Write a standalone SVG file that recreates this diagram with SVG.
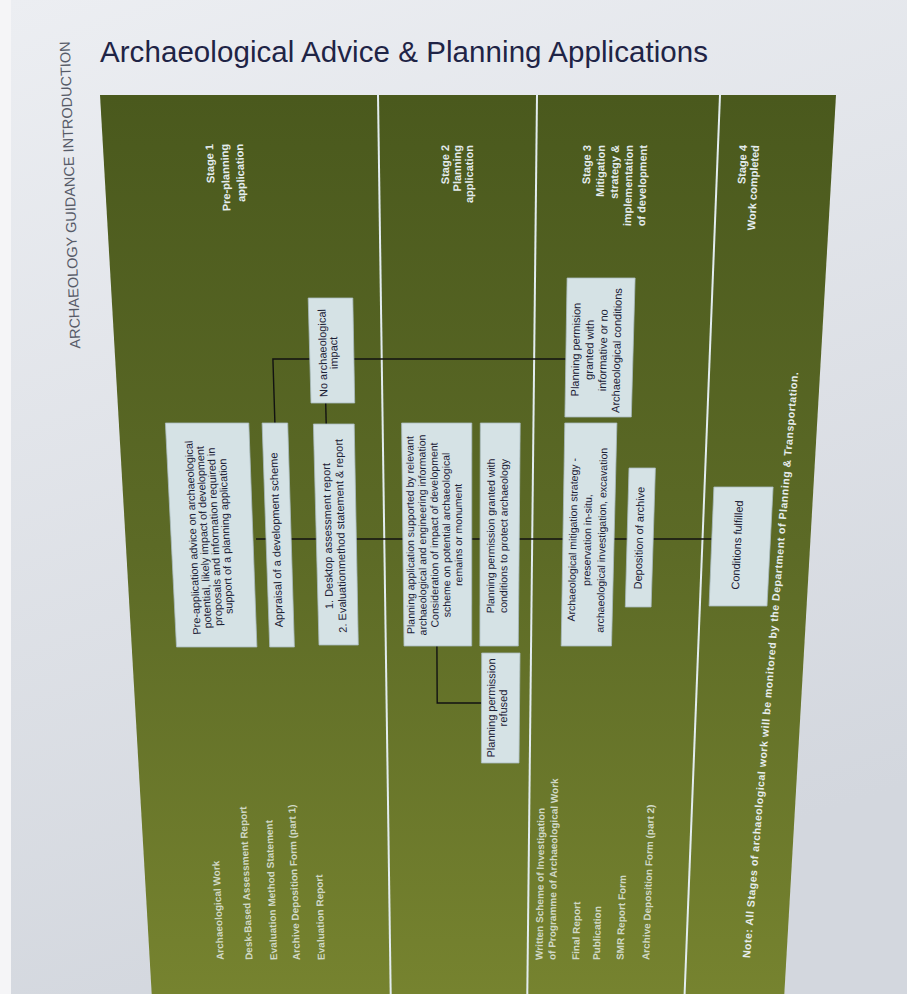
<svg xmlns="http://www.w3.org/2000/svg" width="907" height="994" viewBox="0 0 907 994">
<defs>
<linearGradient id="pg" x1="0" y1="0" x2="0.3" y2="1">
<stop offset="0" stop-color="#eceef2"/>
<stop offset="1" stop-color="#d3d7de"/>
</linearGradient>
<linearGradient id="gr" x1="0" y1="0" x2="0" y2="1">
<stop offset="0" stop-color="#4a591d"/>
<stop offset="0.5" stop-color="#5c6a26"/>
<stop offset="1" stop-color="#76832f"/>
</linearGradient>
<style>
.box{fill:#d5e2e5;stroke:#a9bbc0;stroke-width:0.8}
.bt{font-family:"Liberation Sans",Arial,sans-serif;font-size:11px;fill:#1b2035;text-anchor:middle;dominant-baseline:central}
.stg{font-family:"Liberation Sans",Arial,sans-serif;font-size:11px;font-weight:bold;fill:#e4ecee;text-anchor:end;dominant-baseline:central}
.lst{font-family:"Liberation Sans",Arial,sans-serif;font-size:10px;font-weight:bold;fill:#d0d8c6;text-anchor:start;dominant-baseline:central}
.conn{stroke:#121212;stroke-width:1.4;fill:none}
.dv{stroke:#e2ecf0;stroke-width:2}
</style>
</defs>
<rect x="0" y="0" width="907" height="994" fill="url(#pg)"/>
<rect x="0" y="0" width="11" height="994" fill="#f5f5f7"/>
<polygon points="100,95 836,95 784.3,994 151.7,994" fill="url(#gr)"/>
<g id="dividers">
<line class="dv" x1="378" y1="95" x2="390.7" y2="994"/>
<line class="dv" x1="537" y1="95" x2="527.3" y2="994"/>
<line class="dv" x1="720" y1="95" x2="684.6" y2="994"/>
</g>
<text x="100" y="62" font-family="Liberation Sans, Arial, sans-serif" font-size="29.5" fill="#1f2446" textLength="608">Archaeological Advice &amp; Planning Applications</text>
<text transform="translate(70,195) rotate(-92)" x="0" y="0" font-family="Liberation Sans, Arial, sans-serif" font-size="14.5" fill="#575b68" text-anchor="middle" dominant-baseline="central">ARCHAEOLOGY GUIDANCE INTRODUCTION</text>
<g id="stage-labels">
<text class="stg" transform="translate(209,144) rotate(-92.2)">Stage 1</text>
<text class="stg" transform="translate(224,144) rotate(-92.2)">Pre-planning</text>
<text class="stg" transform="translate(239,144) rotate(-92.2)">application</text>
<text class="stg" transform="translate(445,145) rotate(-90.1)">Stage 2</text>
<text class="stg" transform="translate(457,145) rotate(-90.1)">Planning</text>
<text class="stg" transform="translate(469,145) rotate(-90.1)">application</text>
<text class="stg" transform="translate(587,145) rotate(-88.6)">Stage 3</text>
<text class="stg" transform="translate(601,145) rotate(-88.6)">Mitigation</text>
<text class="stg" transform="translate(615,145) rotate(-88.6)">strategy &amp;</text>
<text class="stg" transform="translate(629,145) rotate(-88.6)">implementation</text>
<text class="stg" transform="translate(643,145) rotate(-88.6)">of development</text>
<text class="stg" transform="translate(743,145) rotate(-87.4)">Stage 4</text>
<text class="stg" transform="translate(755,145) rotate(-87.4)">Work completed</text>
</g>
<g id="documents-stage1">
<text class="lst" transform="translate(220.3,960) rotate(-92.57)">Archaeological Work</text>
<text class="lst" transform="translate(249,960) rotate(-92.27)">Desk-Based Assessment Report</text>
<text class="lst" transform="translate(273.8,960) rotate(-92.01)">Evaluation Method Statement</text>
<text class="lst" transform="translate(296.5,960) rotate(-91.78)">Archive Deposition Form (part 1)</text>
<text class="lst" transform="translate(321.3,960) rotate(-91.52)">Evaluation Report</text>
</g>
<g id="documents-stage3">
<text class="lst" transform="translate(539.1,960) rotate(-89.26)">Written Scheme of Investigation</text>
<text class="lst" transform="translate(551.9,960) rotate(-89.13)">of Programme of Archaeological Work</text>
<text class="lst" transform="translate(575.7,960) rotate(-88.88)">Final Report</text>
<text class="lst" transform="translate(596.4,960) rotate(-88.67)">Publication</text>
<text class="lst" transform="translate(620.1,960) rotate(-88.42)">SMR Report Form</text>
<text class="lst" transform="translate(645.7,960) rotate(-88.16)">Archive Deposition Form (part 2)</text>
</g>
<text class="lst" transform="translate(746,958) rotate(-85.3)" style="font-size:10.6px;fill:#e6ecec" textLength="588">Note: All Stages of archaeological work will be monitored by the Department of Planning &amp; Transportation.</text>
<g id="connectors">
<line class="conn" x1="256" y1="539" x2="712" y2="539"/>
<polyline class="conn" points="274.9,423 272.9,359 309.8,359"/>
<line class="conn" x1="354" y1="359" x2="565.8" y2="359"/>
<line class="conn" x1="325.7" y1="403" x2="326.2" y2="424"/>
<polyline class="conn" points="436.9,646 437.2,703 481.6,703"/>
</g>
<g id="n-preapp">
<polygon class="box" points="165.4,423 248.8,423 256.9,647 176.5,647"/>
<g transform="translate(209,537) rotate(-92.46)">
<text class="bt" style="font-size:10.8px" y="-16.5">Pre-application advice on archaeological</text>
<text class="bt" style="font-size:10.8px" y="-5.5">potential, likely impact of development</text>
<text class="bt" style="font-size:10.8px" y="5.5">proposals and information required in</text>
<text class="bt" style="font-size:10.8px" y="16.5">support of a planning application</text>
</g>
</g>
<g id="n-appraisal">
<polygon class="box" points="262.1,423 287.7,423 294.4,647 269.7,647"/>
<text class="bt" transform="translate(276,540) rotate(-91.82)">Appraisal of a development scheme</text>
</g>
<g id="n-desktop">
<polygon class="box" points="313.4,424 354.2,424 358.3,645 319,645"/>
<g transform="translate(334,536) rotate(-91.27)">
<text class="bt" y="-6.5">1. Desktop assessment report</text>
<text class="bt" y="6.5">2. Evaluationmethod statement &amp; report</text>
</g>
</g>
<g id="n-noimpact">
<polygon class="box" points="308.2,298 352.8,298 354.7,403 311,403"/>
<g transform="translate(328,353) rotate(-91.27)">
<text class="bt" y="-5.5">No archaeological</text>
<text class="bt" y="5.5">impact</text>
</g>
</g>
<g id="n-informative">
<polygon class="box" points="567.1,278 635.1,278 631.3,417 564.9,417"/>
<g transform="translate(596,350) rotate(-88.77)">
<text class="bt" y="-20.5">Planning permision</text>
<text class="bt" y="-6.8">granted with</text>
<text class="bt" y="6.8">informative or no</text>
<text class="bt" y="20.5">Archaeological conditions</text>
</g>
</g>
<g id="n-application">
<polygon class="box" points="401.6,423 471.8,423 471.7,646 404,646"/>
<g transform="translate(434,535) rotate(-90.3)">
<text class="bt" style="font-size:10.5px" y="-24">Planning application supported by relevant</text>
<text class="bt" style="font-size:10.5px" y="-12">archaeological and engineering information</text>
<text class="bt" style="font-size:10.5px" y="0">Consideration of impact of development</text>
<text class="bt" style="font-size:10.5px" y="12">scheme on potential archaeological</text>
<text class="bt" style="font-size:10.5px" y="24">remains or monument</text>
</g>
</g>
<g id="n-conditions">
<polygon class="box" points="480.3,423 520.2,423 518.3,646 479.9,646"/>
<g transform="translate(497,536) rotate(-89.7)">
<text class="bt" style="font-size:10.5px" y="-6.5">Planning permission granted with</text>
<text class="bt" style="font-size:10.5px" y="6.5">conditions to protect archaeology</text>
</g>
</g>
<g id="n-refused">
<polygon class="box" points="481.7,653 520,653 519,763 481.4,763"/>
<g transform="translate(497,708) rotate(-89.68)">
<text class="bt" y="-6">Planning permission</text>
<text class="bt" y="6">refused</text>
</g>
</g>
<g id="n-mitigation">
<polygon class="box" points="564.8,423 616.9,423 611.5,646 561.2,646"/>
<g transform="translate(587,540) rotate(-88.84)">
<text class="bt" style="font-size:10.5px" y="-14.5">Archaeological mitigation strategy -</text>
<text class="bt" style="font-size:10.5px" y="0">preservation in-situ,</text>
<text class="bt" style="font-size:10.5px" y="14.5">archaeological investigation, excavation</text>
</g>
</g>
<g id="n-deposition">
<polygon class="box" points="629,468 655.4,468 651.1,607 625.3,607"/>
<text class="bt" transform="translate(639,538) rotate(-88.34)">Deposition of archive</text>
</g>
<g id="n-fulfilled">
<polygon class="box" points="713.9,487 773.1,487 767,606 709.1,606"/>
<text class="bt" transform="translate(737,545) rotate(-87.37)">Conditions fulfilled</text>
</g>
</svg>
